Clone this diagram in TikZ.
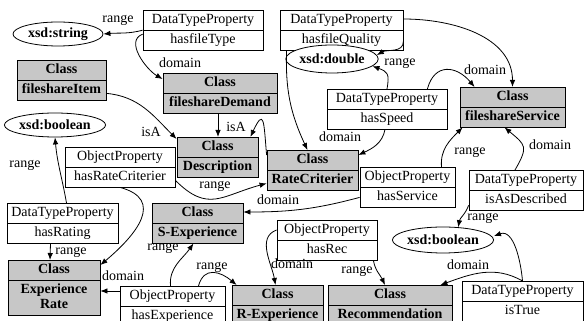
\documentclass[tikz,border=0pt]{standalone}
\usepackage{fontspec}
\setmainfont{Liberation Serif}
\usetikzlibrary{shapes,arrows.meta,calc}

\newcommand{\twopart}[2]{\strut #1\nodepart{two}\strut #2}

\tikzset{
  prop/.style={draw, rectangle split, rectangle split parts=2, fill=white, line width=0.8pt,
    inner xsep=2pt, inner ysep=2pt, align=center, anchor=north, font=\fontsize{14}{15}\selectfont},
  cls/.style={prop, fill=black!22, font=\fontsize{14}{15}\selectfont\bfseries},
  lit/.style={draw, ellipse, fill=white, line width=0.8pt, inner sep=0pt, font=\fontsize{14}{15}\selectfont\bfseries},
  lbl/.style={inner sep=0pt, font=\fontsize{14}{15}\selectfont},
  arr/.style={-{Latex[length=7pt,width=5.5pt]}, line width=0.8pt}
}

\begin{document}
\begin{tikzpicture}[x=1pt, y=1pt]
    \useasboundingbox (0,0) rectangle (584,321);
    \clip (0,0) rectangle (584,321);
    % Nodes
    \node [prop, text width=116pt] (ftype) at (203,311) {\twopart{DataTypeProperty}{hasfileType}};
    \node [prop, text width=119pt] (fqual) at (341.5,311) {\twopart{DataTypeProperty}{hasfileQuality}};
    \node [cls, text width=85pt] (fitem) at (61.5,261) {\twopart{Class}{fileshareItem}};
    \node [cls, text width=110pt] (fdemand) at (220,248) {\twopart{Class}{fileshareDemand}};
    \node [prop, text width=116pt] (speed) at (387,232) {\twopart{DataTypeProperty}{hasSpeed}};
    \node [cls, text width=101pt] (fservice) at (512.5,234) {\twopart{Class}{fileshareService}};
    \node [cls, text width=77pt] (descr) at (217.5,184) {\twopart{Class}{Description}};
    \node [cls, text width=87pt] (ratecrit) at (312.5,171) {\twopart{Class}{RateCriterier}};
    \node [prop, text width=106pt] (hasratecrit) at (120,174) {\twopart{ObjectProperty}{hasRateCriterier}};
    \node [prop, text width=91pt] (hasservice) at (407.5,154) {\twopart{ObjectProperty}{hasService}};
    \node [prop, text width=110pt] (isasdescr) at (526,151) {\twopart{DataTypeProperty}{isAsDescribed}};
    \node [prop, text width=107pt] (hasrating) at (62.5,118) {\twopart{DataTypeProperty}{hasRating}};
    \node [cls, text width=87pt] (sexp) at (197.5,118) {\twopart{Class}{S-Experience}};
    \node [cls, text width=88pt] (exprate) at (54,61) {\twopart{Class}{Experience\\Rate\strut}};
    \node [prop, text width=101pt] (hasexp) at (172.5,35) {\twopart{ObjectProperty}{hasExperience}};
    \node [prop, text width=96pt] (hasrec) at (327,101) {\twopart{ObjectProperty}{hasRec}};
    \node [cls, text width=87pt] (rexp) at (277.5,36) {\twopart{Class}{R-Experience}};
    \node [cls, text width=120pt] (recom) at (390,36) {\twopart{Class}{Recommendation}};
    \node [prop, text width=117pt] (istrue) at (522.5,40) {\twopart{DataTypeProperty}{isTrue}};

    \node [lit, minimum width=90pt, minimum height=24pt] (xstring) at (58,287) {xsd:string};
    \node [lit, minimum width=88pt, minimum height=28pt] (xdouble) at (332,262) {xsd:double};
    \node [lit, minimum width=96pt, minimum height=24pt] (xboolA) at (55,196) {xsd:boolean};
    \node [lit, minimum width=93pt, minimum height=26pt] (xboolB) at (443,81) {xsd:boolean};

    % Labels
    \node [lbl] (lrange1) at (118,301) {range};
    \node [lbl] (ldomain1) at (180,258) {domain};
    \node [lbl] (lrange2) at (400,258) {range};
    \node [lbl] (ldomain2) at (485,251) {domain};
    \node [lbl] (ldomain3) at (340,184) {domain};
    \node [lbl] (lisa1) at (151,189) {isA};
    \node [lbl] (lisa2) at (236,194) {isA};
    \node [lbl] (lrange3) at (215,135) {range};
    \node [lbl] (ldomain4) at (278,121) {domain};
    \node [lbl] (lrange4) at (470,169) {range};
    \node [lbl] (ldomain5) at (550,176) {domain};
    \node [lbl] (lrange5) at (483,103) {range};
    \node [lbl] (ldomain6) at (468,56) {domain};
    \node [lbl] (ldomain7) at (292,57) {domain};
    \node [lbl] (lrange6) at (357,50) {range};
    \node [lbl] (lrange7) at (163,73) {range};
    \node [lbl] (lrange8) at (212,54) {range};
    \node [lbl] (ldomain8) at (123,45) {domain};
    \node [lbl] (lrange9) at (25,156) {range};
    \node [lbl] (lrange10) at (71,69) {range};

    % Arrows
    \draw [arr] (ftype.west) to[out=195,in=5] (xstring.east);
    \draw [arr] ([yshift=-4pt]ftype.west) to[out=200,in=150] ([yshift=-6pt]fdemand.north west);
    \draw [arr] ([yshift=-9pt]fqual.north east) to[out=0,in=90] (fservice.north);
    \draw [arr] ([yshift=9pt]fqual.south east) to[out=-90,in=30] (xdouble.5);
    \draw [arr] ([xshift=7pt]fqual.south west) to[out=-92,in=115] ([xshift=-5pt]ratecrit.north);
    \draw [arr] (speed.north) to[out=80,in=-20,looseness=1.5] (xdouble.-10);
    \draw [arr] ([xshift=-20pt]speed.north east) to[out=75,in=130,looseness=1.5] ([xshift=15pt]fservice.north west);
    \draw [arr] ([xshift=-2pt]speed.south) to[out=-100,in=25] ([yshift=-5pt]ratecrit.north east);
    \draw [arr] ([yshift=7pt]fitem.south east) to[out=-5,in=135] ([yshift=-2pt]descr.north west);
    \draw [arr] ([xshift=-2pt]fdemand.south) -- ([xshift=0.5pt]descr.north);
    \draw [arr] ([yshift=-5pt]ratecrit.north west) to[out=95,in=65,looseness=3.5] ([xshift=-8pt]descr.north east);
    \draw [arr] ([yshift=7pt]hasratecrit.south east) to[out=-45,in=195,looseness=1.3] ([yshift=7pt]ratecrit.south west);
    \draw [arr] (hasratecrit.south) to[out=-15,in=40,looseness=1.5] ([yshift=-5pt]exprate.north east);
    \draw [arr] ([yshift=10pt]hasservice.south west) to[out=195,in=0] ([yshift=-9pt]sexp.north east);
    \draw [arr] ([xshift=34pt]hasservice.north) to[out=95,in=225] ([xshift=3pt]fservice.south west);
    \draw [arr] ([xshift=-11pt]isasdescr.north) to[out=60,in=-40,looseness=1.6] ([xshift=-8pt]fservice.south);
    \draw [arr] ([yshift=5pt]isasdescr.south west) to[out=-110,in=80] (xboolB.40);
    \draw [arr] (istrue.north) to[out=95,in=20] ([yshift=4pt]xboolB.east);
    \draw [arr] (istrue.north) to[out=150,in=20] ([xshift=-12pt]recom.north east);
    \draw [arr] ([yshift=-10pt]hasrec.north west) to[out=200,in=100] ([xshift=-2pt]rexp.north);
    \draw [arr] ([xshift=-4pt]hasrec.south east) to[out=-80,in=115] ([xshift=-5pt]recom.north);
    \draw [arr] ([xshift=-2pt]hasexp.north) to[out=95,in=235] ([xshift=-4pt]sexp.south);
    \draw [arr] ([xshift=26pt]hasexp.north) to[out=75,in=140,looseness=1.4] ([xshift=5pt]rexp.north west);
    \draw [arr] ([yshift=-5pt]hasexp.north west) -- ([yshift=-31pt]exprate.north east);
    \draw [arr] ([xshift=4pt]hasrating.north) to[out=100,in=-85] (xboolA.south);
    \draw [arr] ([xshift=-12pt]hasrating.south) -- ([xshift=-4pt]exprate.north);
\end{tikzpicture}
\end{document}
